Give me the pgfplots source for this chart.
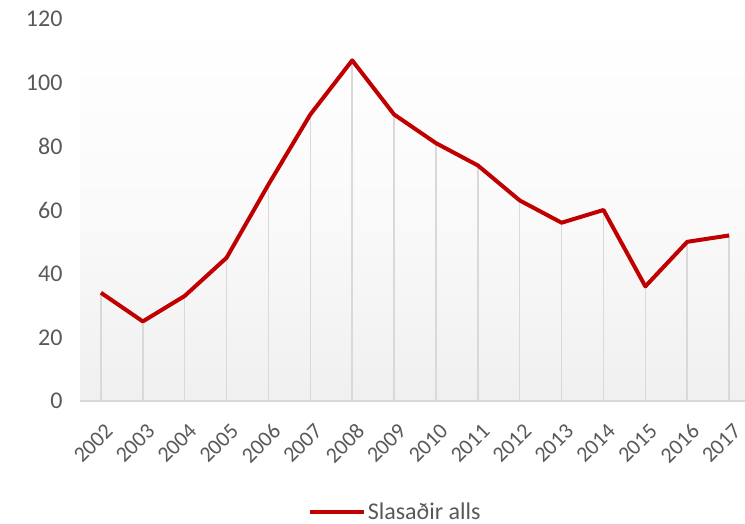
\documentclass[border=0pt]{standalone}
\usepackage{fontspec}
\setmainfont{Carlito}
\usepackage{pgfplots}
\pgfplotsset{compat=1.18}
\definecolor{linered}{HTML}{C00000}
\definecolor{dropgray}{HTML}{D9D9D9}
\definecolor{txtgray}{HTML}{595959}
\begin{document}
\begin{tikzpicture}[x=1bp,y=1bp]
\path[use as bounding box] (0,0) rectangle (745,524);
\begin{axis}[
  at={(80bp,123bp)}, anchor=south west,
  scale only axis, width=665bp, height=382bp,
  xmin=2001.5, xmax=2017.38, ymin=0, ymax=120,
  xtick={2002,...,2017}, ytick={0,20,...,120},
  major tick length=0pt,
  axis line style={draw=none},
  axis background/.style={top color=white, bottom color=black!6, middle color=black!2},
  /pgf/number format/assume math mode=true,
  /pgf/number format/1000 sep={},
  tick label style={font=\fontsize{24bp}{28bp}\selectfont, text=txtgray},
  yticklabel style={xshift=-14bp},
  xticklabel style={xshift=3bp, yshift=-21bp, rotate=45, anchor=north east, inner sep=0pt, font=\fontsize{22bp}{26bp}\selectfont},
  clip=false,
  legend style={at={(0.474,-0.29)}, anchor=center, draw=none, fill=none,
    font=\fontsize{24bp}{28bp}\selectfont, text=txtgray},
  legend cell align=left,
  legend image code/.code={\draw[#1, line width=4bp] (0bp,0bp) -- (54bp,0bp);},
]
\addplot[ycomb, dropgray, line width=1.5bp, forget plot] coordinates {
(2002,34) (2003,25) (2004,33) (2005,45) (2006,68) (2007,90) (2008,107) (2009,90)
(2010,81) (2011,74) (2012,63) (2013,56) (2014,60) (2015,36) (2016,50) (2017,52)};
\draw[dropgray, line width=1.5bp] (axis cs:2001.5,0) -- (axis cs:2017.38,0);
\addplot[linered, line width=4bp, line join=round, mark=none] coordinates {
(2002,34) (2003,25) (2004,33) (2005,45) (2006,68) (2007,90) (2008,107) (2009,90)
(2010,81) (2011,74) (2012,63) (2013,56) (2014,60) (2015,36) (2016,50) (2017,52)};
\addlegendentry{Slasaðir alls}
\end{axis}
\end{tikzpicture}
\end{document}
